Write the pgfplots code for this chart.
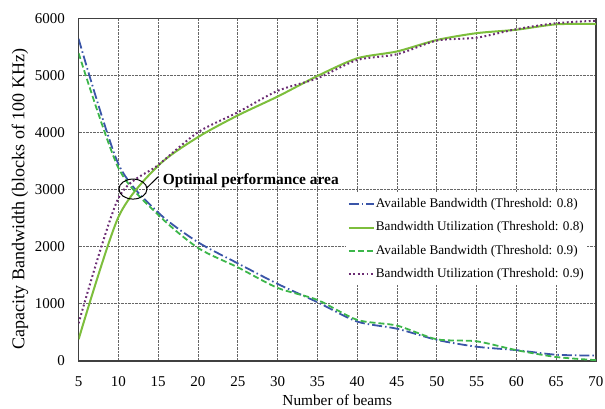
\documentclass[border=0pt]{standalone}
\usepackage{fontspec}
\setmainfont{Liberation Serif}
\usepackage{pgfplots}
\pgfplotsset{compat=1.18}
\definecolor{cblue}{HTML}{3A55A8}
\definecolor{cgreen}{HTML}{7DBE3C}
\definecolor{cgreenb}{HTML}{3CB64A}
\definecolor{cpurple}{HTML}{6B2C73}
\begin{document}
\begin{tikzpicture}
\path[use as bounding box] (-78.6pt,-47pt) rectangle (526.4pt,361pt);
\begin{axis}[
  scale only axis,
  width=517.4pt, height=342.7pt,
  xmin=5, xmax=70, ymin=0, ymax=6000,
  xtick={5,10,...,70},
  ytick={0,1000,...,6000},
  major tick length=0pt,
  grid=major,
  major grid style={densely dotted, gray!80!black, line width=0.8pt},
  axis line style={black!75, line width=1.1pt},
  /pgf/number format/assume math mode=true,
  /pgf/number format/set thousands separator={},
  tick label style={font=\fontsize{15}{15}\selectfont, inner sep=0pt},
  xticklabel style={anchor=north, yshift=-15pt},
  yticklabel style={anchor=east, xshift=-13.6pt},
  xlabel={Number of beams},
  ylabel={Capacity Bandwidth (blocks of 100 KHz)},
  xlabel style={font=\fontsize{15.3}{15.3}\selectfont, at={(axis description cs:0.5,-0.1138)}, anchor=center, inner sep=0pt},
  ylabel style={font=\fontsize{18}{18}\selectfont, at={(axis description cs:-0.1133,0.473)}, anchor=center, inner sep=0pt},
  legend cell align=left,
  legend style={at={(0.9826,0.4895)}, anchor=north east, draw=none, fill=white,
    font=\fontsize{13.2}{13.2}\selectfont, row sep=7.8pt, inner xsep=2pt, inner ysep=3pt,
    nodes={inner sep=1pt, text height=10pt, text depth=3.5pt}},
  legend image code/.code={\draw[#1] (0pt,0pt) -- (25pt,0pt);},
  every axis plot/.append style={smooth, tension=0.45, no markers},
]
\addplot[cblue, line width=1.8pt, dash pattern=on 10pt off 3pt on 1.5pt off 3pt] coordinates {
(5,5640) (10,3450) (15,2600) (20,2080) (25,1710) (30,1350) (35,1030) (40,690) (45,565) (50,370) (55,250) (60,190) (65,110) (70,95)};
\addlegendentry{Available Bandwidth (Threshold: 0.8)}
\addplot[cgreen, line width=2pt] coordinates {
(5,380) (10,2520) (15,3420) (20,3920) (25,4300) (30,4630) (35,4990) (40,5300) (45,5420) (50,5620) (55,5740) (60,5800) (65,5895) (70,5900)};
\addlegendentry{Bandwidth Utilization (Threshold: 0.8)}
\addplot[cgreenb, line width=1.8pt, dash pattern=on 6pt off 3pt] coordinates {
(5,5390) (10,3380) (15,2560) (20,1980) (25,1640) (30,1280) (35,1070) (40,720) (45,620) (50,380) (55,345) (60,190) (65,70) (70,15)};
\addlegendentry{Available Bandwidth (Threshold: 0.9)}
\addplot[cpurple, line width=2pt, dash pattern=on 1.8pt off 2.6pt] coordinates {
(5,660) (10,2850) (15,3430) (20,4005) (25,4355) (30,4730) (35,4950) (40,5270) (45,5370) (50,5610) (55,5660) (60,5810) (65,5915) (70,5958)};
\addlegendentry{Bandwidth Utilization (Threshold: 0.9)}
\draw[black, line width=1pt] (axis cs:11.83,3010) ellipse [x radius=14pt, y radius=10pt];
\draw[black, line width=1pt] (axis cs:13.55,3029) -- (axis cs:15.01,3227);
\node[anchor=west, inner sep=0pt, font=\fontsize{15.4}{15.4}\selectfont\bfseries] at (axis cs:15.55,3150) {Optimal performance area};
\end{axis}
\end{tikzpicture}
\end{document}
